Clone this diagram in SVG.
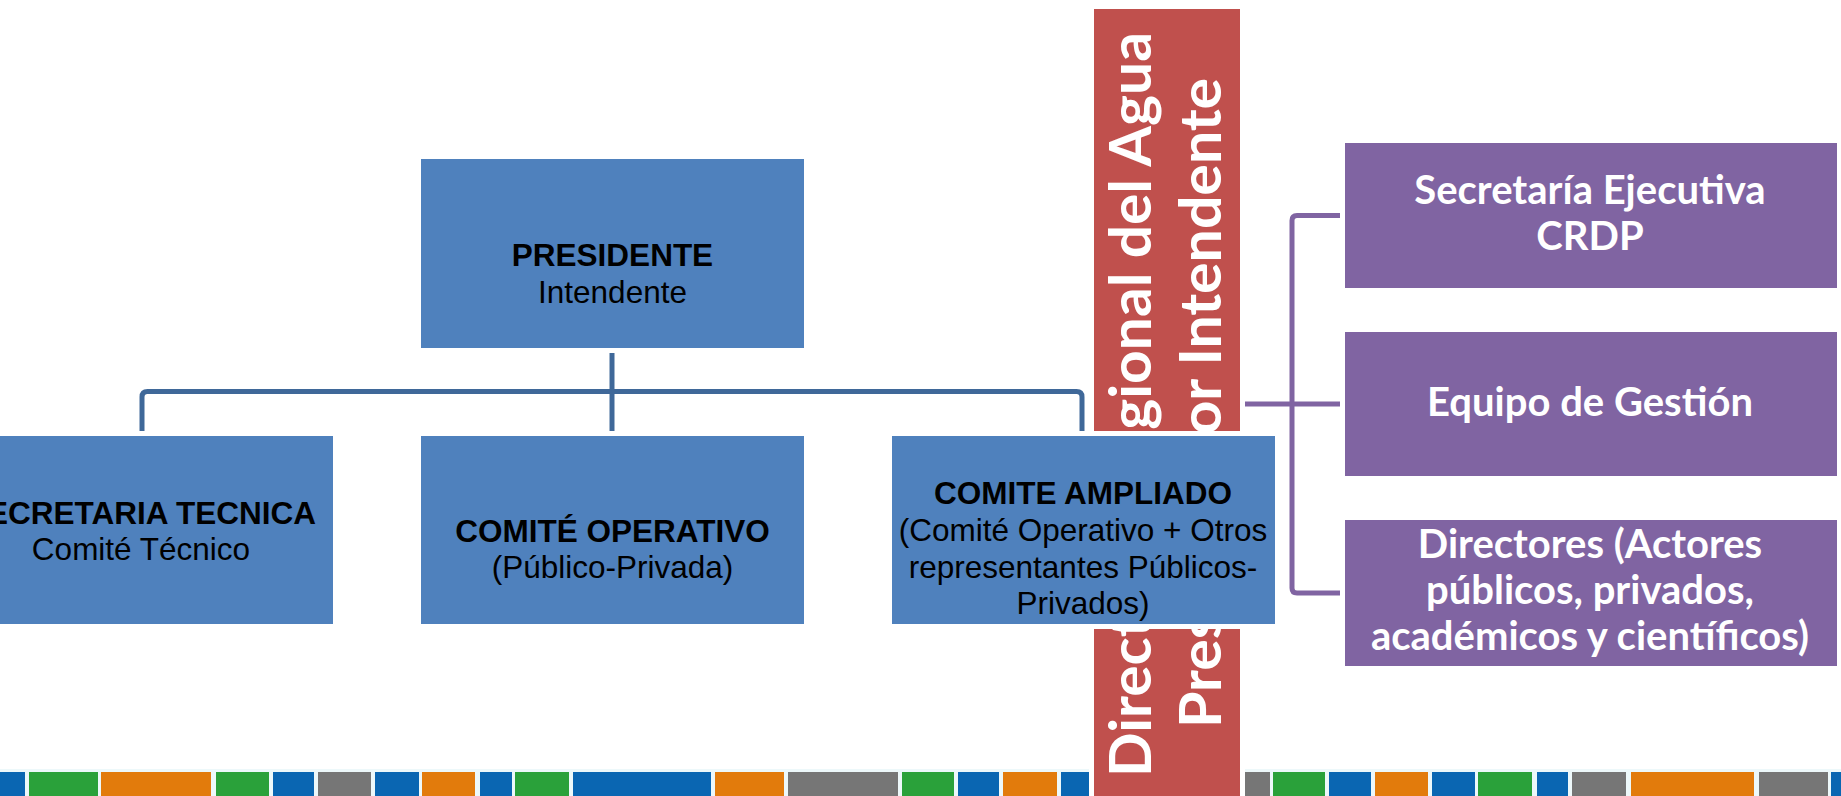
<svg xmlns="http://www.w3.org/2000/svg" width="1841" height="796" viewBox="0 0 1841 796">
<style>
.bg{fill:#ffffff}
.sb{fill:#0A66B2}.sg{fill:#2AA13A}.so{fill:#E27B0C}.sy{fill:#767676}
.box{fill:#4F81BD;stroke:#ffffff;stroke-width:10;paint-order:stroke}
.pbox{fill:#8064A2;stroke:#ffffff;stroke-width:10;paint-order:stroke}
.rbox{fill:#C0504D;stroke:#ffffff;stroke-width:10;paint-order:stroke}
.conn{fill:none;stroke:#3F6899;stroke-width:5;stroke-linejoin:round}
.pconn{fill:none;stroke:#8064A2;stroke-width:5;stroke-linejoin:round}
.t{font-family:"Liberation Sans",Arial,sans-serif;font-size:31.5px;fill:#000000;text-anchor:middle}
.b{font-weight:bold}
.pt{font-family:Lato,"Open Sans",sans-serif;font-weight:bold;font-size:40px;fill:#ffffff;text-anchor:middle}
.rt{font-family:Lato,"Open Sans",sans-serif;font-weight:bold;font-size:57px;fill:#ffffff;text-anchor:middle}
</style>
<rect class="bg" x="0" y="0" width="1841" height="796"/>
<g id="stripes">
<rect x="0" y="769" width="1841" height="27" fill="#EDF8FA"/>
<rect class="sb" x="0" y="772" width="25" height="24"/>
<rect class="sg" x="29" y="772" width="69" height="24"/>
<rect class="so" x="101" y="772" width="110" height="24"/>
<rect class="sg" x="216" y="772" width="53" height="24"/>
<rect class="sb" x="273" y="772" width="41" height="24"/>
<rect class="sy" x="318" y="772" width="53" height="24"/>
<rect class="sb" x="375" y="772" width="44" height="24"/>
<rect class="so" x="422" y="772" width="53" height="24"/>
<rect class="sb" x="480" y="772" width="32" height="24"/>
<rect class="sg" x="515" y="772" width="54" height="24"/>
<rect class="sb" x="573" y="772" width="138" height="24"/>
<rect class="so" x="715" y="772" width="69" height="24"/>
<rect class="sy" x="788" y="772" width="110" height="24"/>
<rect class="sg" x="902" y="772" width="52" height="24"/>
<rect class="sb" x="958" y="772" width="41" height="24"/>
<rect class="so" x="1003" y="772" width="54" height="24"/>
<rect class="sb" x="1061" y="772" width="28" height="24"/>
<rect class="sy" x="1245" y="772" width="25" height="24"/>
<rect class="sg" x="1273" y="772" width="52" height="24"/>
<rect class="sb" x="1329" y="772" width="42" height="24"/>
<rect class="so" x="1375" y="772" width="53" height="24"/>
<rect class="sb" x="1432" y="772" width="43" height="24"/>
<rect class="sg" x="1478" y="772" width="54" height="24"/>
<rect class="sb" x="1537" y="772" width="31" height="24"/>
<rect class="sy" x="1572" y="772" width="54" height="24"/>
<rect class="so" x="1631" y="772" width="123" height="24"/>
<rect class="sy" x="1759" y="772" width="69" height="24"/>
<rect class="sb" x="1831" y="772" width="10" height="24"/>
</g>
<g id="connectors">
<path class="conn" d="M612,348 V436"/>
<path class="conn" d="M142,436 V397 Q142,391.5 147.5,391.5 H1076.5 Q1082,391.5 1082,397 V436"/>
<path class="pconn" d="M1240,404 H1345"/>
<path class="pconn" d="M1345,215.5 H1297 Q1292,215.5 1292,220.5 V588 Q1292,593 1297,593 H1345"/>
</g>
<g id="directorio">
<rect class="rbox" x="1094" y="9" width="146" height="800"/>
<text class="rt" transform="translate(1151,404.5) rotate(-90)" x="0" y="0" textLength="745" lengthAdjust="spacingAndGlyphs">Directorio Regional del Agua</text>
<text class="rt" transform="translate(1221,403) rotate(-90)" x="0" y="0" textLength="650" lengthAdjust="spacingAndGlyphs">Presidido por Intendente</text>
</g>
<g id="presidente">
<rect class="box" x="421" y="159" width="383" height="189"/>
<text class="t b" x="612.5" y="266">PRESIDENTE</text>
<text class="t" x="612.5" y="303">Intendente</text>
</g>
<g id="secretaria-tecnica">
<rect class="box" x="-51" y="436" width="384" height="188"/>
<text class="t b" x="141" y="524">SECRETARIA TECNICA</text>
<text class="t" x="141" y="560">Comité Técnico</text>
</g>
<g id="comite-operativo">
<rect class="box" x="421" y="436" width="383" height="188"/>
<text class="t b" x="612.5" y="542">COMITÉ OPERATIVO</text>
<text class="t" x="612.5" y="578">(Público-Privada)</text>
</g>
<g id="comite-ampliado">
<rect class="box" x="892" y="436" width="383" height="188"/>
<text class="t b" x="1083" y="504">COMITE AMPLIADO</text>
<text class="t" x="1083" y="541">(Comité Operativo + Otros</text>
<text class="t" x="1083" y="577.5">representantes Públicos-</text>
<text class="t" x="1083" y="613.5">Privados)</text>
</g>
<g id="secretaria-ejecutiva">
<rect class="pbox" x="1345" y="143" width="492" height="145"/>
<text class="pt" x="1590" y="204">Secretaría Ejecutiva</text>
<text class="pt" x="1590" y="250">CRDP</text>
</g>
<g id="equipo-gestion">
<rect class="pbox" x="1345" y="332" width="492" height="144"/>
<text class="pt" x="1590" y="416">Equipo de Gestión</text>
</g>
<g id="directores">
<rect class="pbox" x="1345" y="520" width="492" height="146"/>
<text class="pt" x="1590" y="558">Directores (Actores</text>
<text class="pt" x="1590" y="604">públicos, privados,</text>
<text class="pt" x="1590" y="650">académicos y científicos)</text>
</g>
</svg>
